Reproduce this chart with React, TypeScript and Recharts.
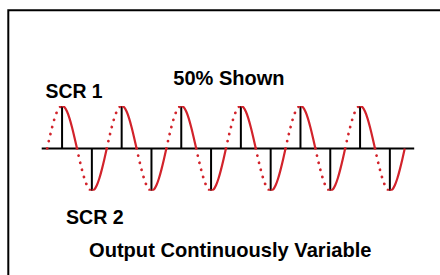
import { LineChart, Line, XAxis, YAxis, ReferenceLine } from "recharts";

// one half-cycle (phase in degrees -> relative height)
const phases = [0, 15, 30, 45, 60, 75, 90, 105, 120, 135, 150, 165, 180];
const halfShape = [0, 0.26, 0.5, 0.71, 0.87, 0.97, 1, 0.97, 0.87, 0.71, 0.5, 0.26, 0];
// 12 half-cycles, alternating SCR 1 (+) and SCR 2 (-)
const halfSigns = [1, -1, 1, -1, 1, -1, 1, -1, 1, -1, 1, -1];
const firingPhase = 90; // 50% shown
const axisRange = [-33, 2217];

const RED = "#d2232b";

type Row = { x: number; dotted: number | null; solid: number | null };

function buildRows(): Row[] {
  const rows = new Map<number, Row>();
  const get = (x: number) => {
    if (!rows.has(x)) rows.set(x, { x, dotted: null, solid: null });
    return rows.get(x)!;
  };
  halfSigns.forEach((sign, k) => {
    phases.forEach((p, i) => {
      const x = k * 180 + p;
      const v = sign * halfShape[i];
      const r = get(x);
      if (p <= firingPhase) r.dotted = v;
      if (p >= firingPhase) r.solid = v;
    });
  });
  return Array.from(rows.values()).sort((a, b) => a.x - b.x);
}

const data = buildRows();
const firings = halfSigns.map((sign, k) => ({ x: k * 180 + firingPhase, y: sign }));

export default function App() {
  return (
    <div style={{ position: "absolute", left: 0, top: 0, width: 440, height: 275, overflow: "hidden", background: "#fff" }}>
      <svg width={440} height={275} style={{ position: "absolute", left: 0, top: 0 }}>
        <path d="M8.3 300 V10.3 H500" fill="none" stroke="#000" strokeWidth={2} />
      </svg>
      <div style={{ position: "absolute", left: 0, top: 0 }}>
        <LineChart
          width={440}
          height={275}
          data={data}
          margin={{ top: 106, bottom: 84.2, left: 41.7, right: 25.8 }}
        >
          <XAxis dataKey="x" type="number" domain={axisRange} hide allowDataOverflow />
          <YAxis type="number" domain={[-1, 1]} hide allowDataOverflow />
          <ReferenceLine
            segment={[{ x: axisRange[0], y: 0 }, { x: axisRange[1], y: 0 }]}
            stroke="#000"
            strokeWidth={2}
          />
          {firings.map((f, i) => (
            <ReferenceLine
              key={i}
              segment={[{ x: f.x, y: 0 }, { x: f.x, y: f.y }]}
              stroke="#000"
              strokeWidth={2}
            />
          ))}
          <Line
            dataKey="dotted"
            type="monotone"
            stroke={RED}
            strokeWidth={2.7}
            strokeDasharray="0.1 7.2"
            strokeLinecap="round"
            dot={false}
            connectNulls={false}
            isAnimationActive={false}
          />
          <Line
            dataKey="solid"
            type="monotone"
            stroke={RED}
            strokeWidth={2.2}
            dot={false}
            connectNulls={false}
            isAnimationActive={false}
          />
        </LineChart>
      </div>
      <svg width={440} height={275} style={{ position: "absolute", left: 0, top: 0 }}>
        <g fontFamily="'Liberation Sans', Arial, sans-serif" fontWeight="bold" fill="#000">
          <text x={45.5} y={98.3} fontSize={19.4}>SCR 1</text>
          <text x={173.3} y={84.7} fontSize={20}>50% Shown</text>
          <text x={66} y={223.7} fontSize={19.6}>SCR 2</text>
          <text x={89} y={256.7} fontSize={20.1}>Output Continuously Variable</text>
        </g>
      </svg>
    </div>
  );
}
